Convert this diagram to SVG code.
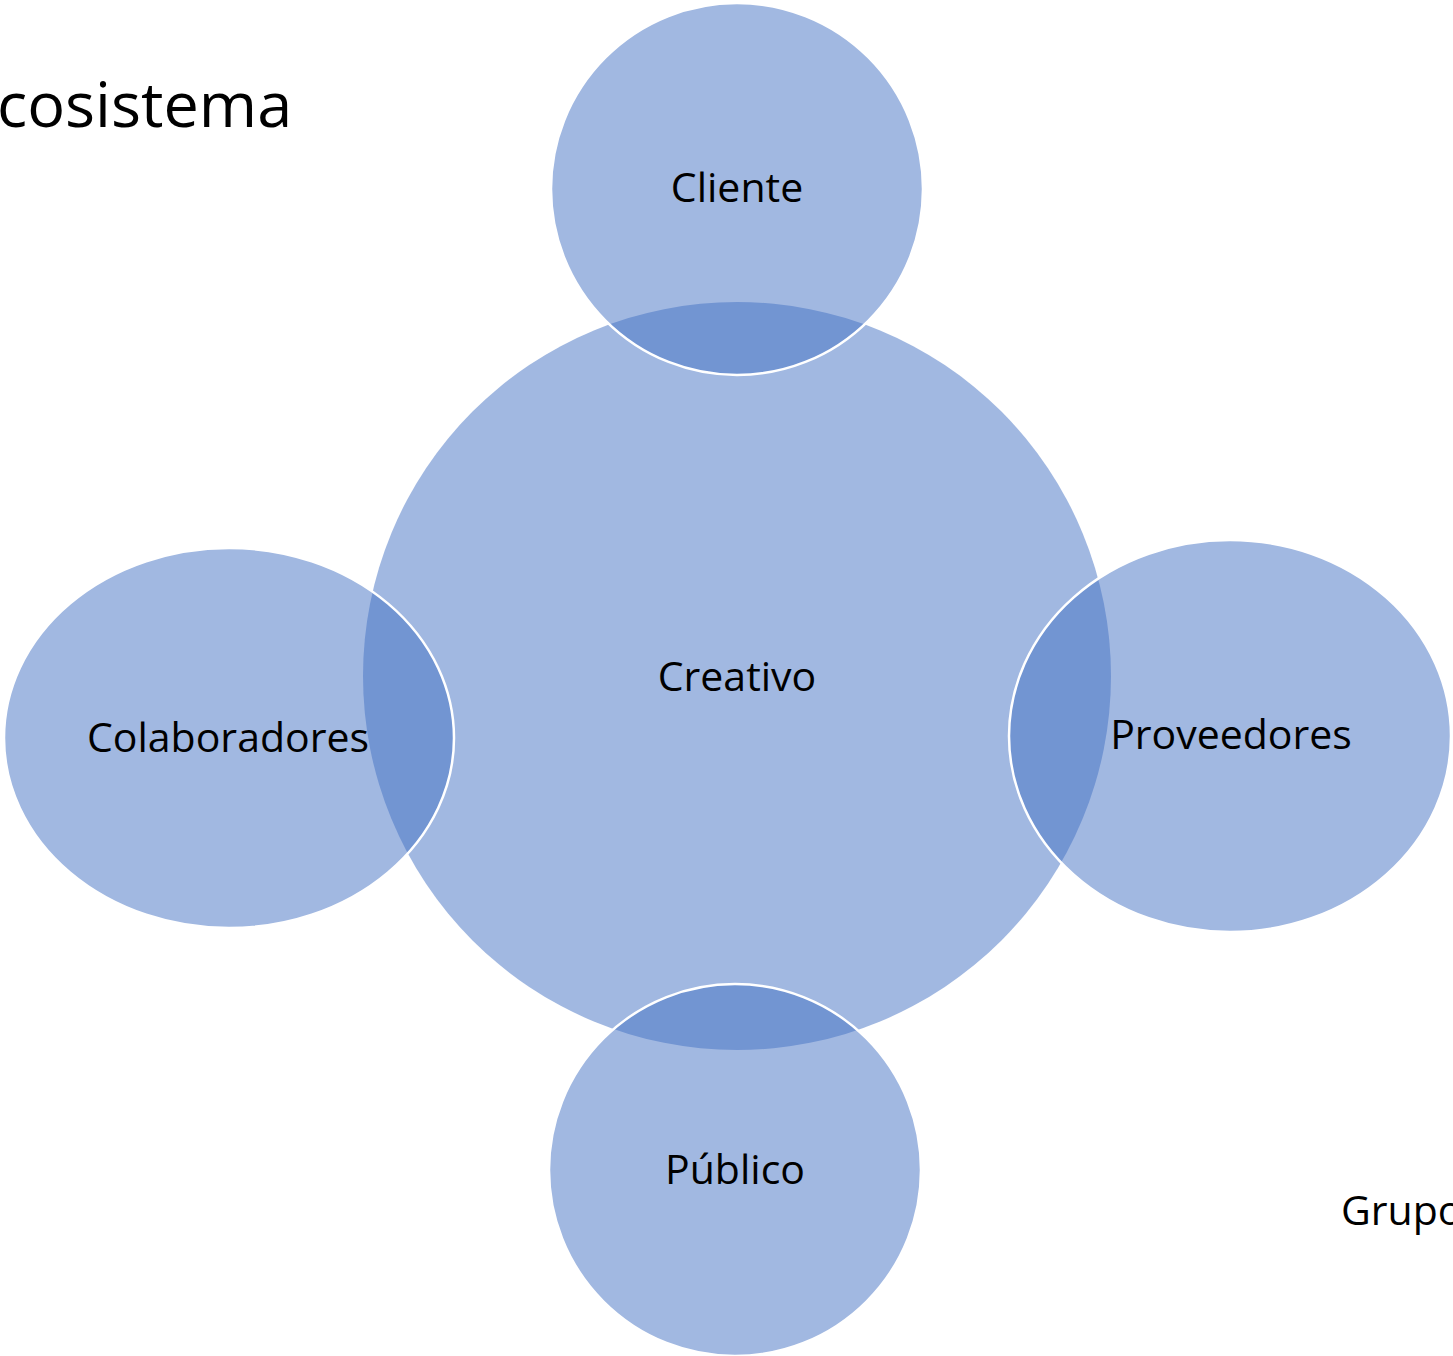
<svg xmlns="http://www.w3.org/2000/svg" width="1453" height="1356" viewBox="0 0 1453 1356">
<style>
.n{fill:#4472C4;fill-opacity:0.5}
.s{stroke:#FFFFFF;stroke-width:2.5}
.t{font-family:"Open Sans","Liberation Sans",sans-serif;font-size:41px;fill:#000000;text-anchor:middle}
.h{font-family:"Open Sans","Liberation Sans",sans-serif;fill:#000000}
</style>
<rect width="1453" height="1356" fill="#FFFFFF"/>
<text class="h" x="-3" y="127" font-size="63">cosistema</text>
<g id="creativo">
<circle class="n" cx="737" cy="676" r="374"/>
<text class="t" x="737" y="691">Creativo</text>
</g>
<g id="cliente">
<circle class="n s" cx="737" cy="189" r="186"/>
<text class="t" x="737" y="202">Cliente</text>
</g>
<g id="proveedores">
<ellipse class="n s" cx="1230" cy="736" rx="221" ry="196"/>
<text class="t" x="1231" y="749">Proveedores</text>
</g>
<g id="publico">
<circle class="n s" cx="735" cy="1170" r="186"/>
<text class="t" x="735" y="1184">Público</text>
</g>
<g id="colaboradores">
<ellipse class="n s" cx="229" cy="738" rx="225" ry="190"/>
<text class="t" x="228" y="752">Colaboradores</text>
</g>
<g id="connectors"></g>
<text class="h" x="1341" y="1225" font-size="41">Grupo</text>
</svg>
